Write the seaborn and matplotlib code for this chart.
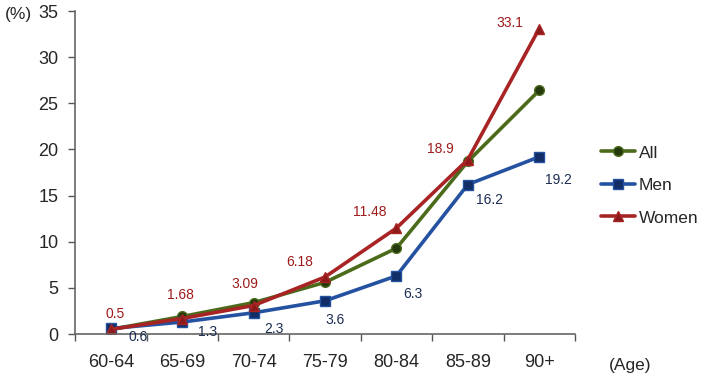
import pandas as pd
import matplotlib
matplotlib.use("Agg")
import matplotlib.pyplot as plt
import seaborn as sns

ages = ['60-64', '65-69', '70-74', '75-79', '80-84', '85-89', '90+']
all_vals = [0.5, 1.9, 3.4, 5.6, 9.3, 18.7, 26.4]
men_vals = [0.6, 1.3, 2.3, 3.6, 6.3, 16.2, 19.2]
women_vals = [0.5, 1.68, 3.09, 6.18, 11.48, 18.9, 33.1]
men_labels = ['0.6', '1.3', '2.3', '3.6', '6.3', '16.2', '19.2']
women_labels = ['0.5', '1.68', '3.09', '6.18', '11.48', '18.9', '33.1']

rows = []
for name, vals in [('All', all_vals), ('Men', men_vals), ('Women', women_vals)]:
    for i, v in enumerate(vals):
        rows.append({'Age': i, 'Group': name, 'Value': v})
df = pd.DataFrame(rows)

sns.set_style('white')
plt.rcParams['font.family'] = ['Liberation Sans', 'DejaVu Sans']

colors = {'All': '#4b6b1b', 'Men': '#2452a0', 'Women': '#a82424'}
mcolors = {'All': '#243a0c', 'Men': '#132d66', 'Women': '#8c1a1a'}
markers = {'All': 'o', 'Men': 's', 'Women': '^'}

fig = plt.figure(figsize=(7.02, 3.8), dpi=100)
ax = fig.add_axes([0.107, 0.121, 0.712, 0.850])

for g in ['All', 'Men', 'Women']:
    sub = df[df['Group'] == g]
    sns.lineplot(data=sub, x='Age', y='Value', ax=ax, color=colors[g], lw=2.6,
                 marker=markers[g], markersize=7, markerfacecolor=mcolors[g],
                 markeredgecolor=colors[g], markeredgewidth=1, label=g)

# value labels
women_off = [(4, 15), (-2, 24), (-9, 22), (-25, 15), (-27, 16), (-27, 11), (-29, 6)]
men_off = [(27, -9), (25, -10), (20, -16), (10, -19), (16, -18), (22, -15), (19, -23)]
for i in range(len(ages)):
    ax.annotate(women_labels[i], (i, women_vals[i]), xytext=women_off[i],
                textcoords='offset pixels', ha='center', va='center',
                fontsize=10, color='#9e1b1b')
    ax.annotate(men_labels[i], (i, men_vals[i]), xytext=men_off[i],
                textcoords='offset pixels', ha='center', va='center',
                fontsize=10, color='#1c2d52')

ax.set_xlim(-0.5, 6.5)
ax.set_ylim(0, 35)
ax.set_yticks(range(0, 36, 5))
ax.set_xticks(range(len(ages)))
ax.set_xticklabels(ages)
ax.set_xticks([x - 0.5 for x in range(len(ages) + 1)], minor=True)
ax.tick_params(axis='x', which='major', bottom=False, pad=11, labelsize=13)
ax.tick_params(axis='x', which='minor', bottom=True, length=5, width=1,
               color='#555555', direction='out')
ax.tick_params(axis='y', left=True, length=5, width=1, color='#555555',
               labelsize=13, direction='out', pad=7)
for s in ['top', 'right']:
    ax.spines[s].set_visible(False)
for s in ['left', 'bottom']:
    ax.spines[s].set_color('#666666')
    ax.spines[s].set_linewidth(1.2)
ax.set_xlabel('')
ax.set_ylabel('')

fig.text(0.007, 0.963, '(%)', fontsize=12.5, ha='left', va='center')
fig.text(0.868, 0.038, '(Age)', fontsize=12.5, ha='left', va='center')

ax.legend(loc='center left', bbox_to_anchor=(1.02, 0.46), frameon=False,
          fontsize=12.5, handlelength=2.0, handletextpad=0.2, labelspacing=1.0)

fig.savefig('out.png', dpi=100)
